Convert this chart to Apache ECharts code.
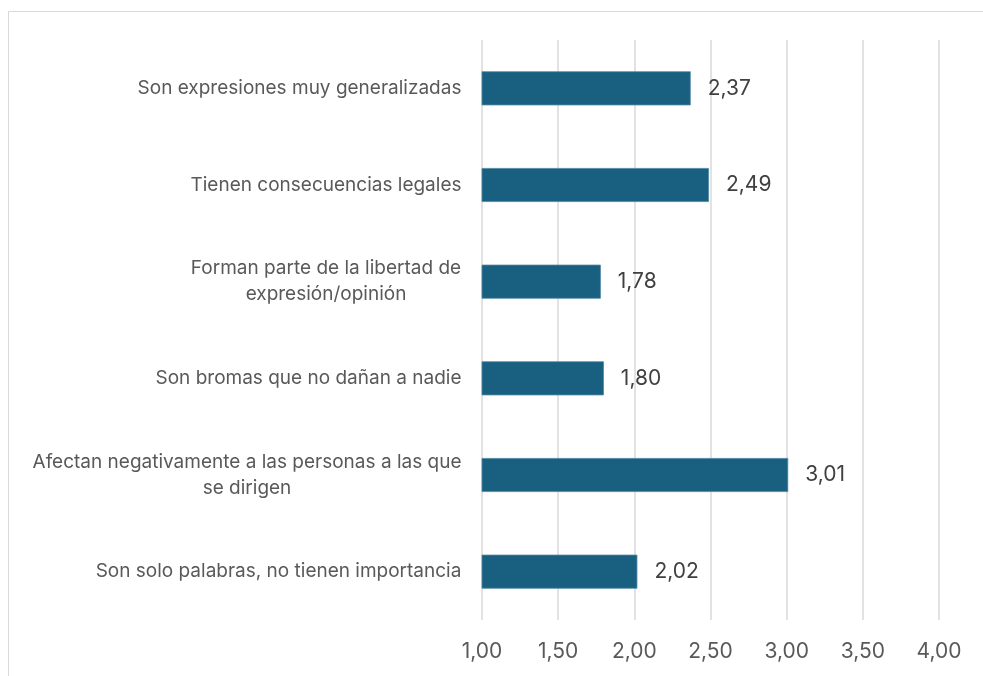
<!DOCTYPE html>
<html>
<head>
<meta charset="utf-8">
<script src="https://cdn.jsdelivr.net/npm/echarts@6/dist/echarts.min.js"></script>
<style>
  html, body { margin: 0; padding: 0; background: #fff; }
  #chart { width: 983px; height: 676px; }
</style>
</head>
<body>
<div id="chart"></div>
<script>
// categorías de arriba hacia abajo
const categories = [
  'Son expresiones muy generalizadas',
  'Tienen consecuencias legales',
  'Forman parte de la libertad de\nexpresión/opinión',
  'Son bromas que no dañan a nadie',
  'Afectan negativamente a las personas a las que\nse dirigen',
  'Son solo palabras, no tienen importancia'
]
const values = [2.37, 2.49, 1.78, 1.80, 3.01, 2.02]
const xMin = 1
const xMax = 4
const xStep = 0.5

const FONT = 'Inter'
const catSize = 19
const fmt = v => v.toFixed(2).replace('.', ',')

// medir cada etiqueta para centrar las líneas dentro del bloque
const ctx = document.createElement('canvas').getContext('2d')
ctx.font = catSize + 'px ' + FONT
const rich = {}
categories.forEach((c, i) => {
  const w = Math.max(...c.split('\n').map(l => ctx.measureText(l).width))
  rich['l' + i] = { width: Math.ceil(w) + 1, align: 'center', fontSize: catSize, lineHeight: 26, color: '#595959', fontFamily: FONT }
})

const chart = echarts.init(document.getElementById('chart'))

const option = {
  animation: false,
  backgroundColor: '#fff',
  textStyle: { fontFamily: FONT },
  graphic: [{
    type: 'rect',
    shape: { x: 8.5, y: 11.5, width: 1000, height: 700 },
    style: { fill: 'none', stroke: '#d9d9d9', lineWidth: 1 },
    silent: true
  }],
  grid: { left: 482, right: 44, top: 40, bottom: 56 },
  xAxis: {
    type: 'value',
    min: xMin,
    max: xMax,
    interval: xStep,
    axisLine: { show: false },
    axisTick: { show: false },
    splitLine: { show: true, lineStyle: { color: '#d9d9d9', width: 1.5 } },
    axisLabel: {
      formatter: v => fmt(v),
      color: '#595959',
      fontSize: 21,
      margin: 21
    }
  },
  yAxis: {
    type: 'category',
    data: categories,
    inverse: true,
    axisLine: { show: false },
    axisTick: { show: false },
    splitLine: { show: false },
    axisLabel: {
      margin: 20,
      formatter: (val, idx) => val.split('\n').map(l => '{l' + idx + '|' + l + '}').join('\n'),
      rich: rich
    }
  },
  series: [{
    type: 'bar',
    data: values,
    barWidth: 34,
    itemStyle: { color: '#185f80', borderColor: '#4f86a3', borderWidth: 0.8 },
    label: {
      show: true,
      position: 'right',
      distance: 17,
      formatter: p => fmt(p.value),
      color: '#404040',
      fontSize: 21
    }
  }]
}

chart.setOption(option)
</script>
</body>
</html>
